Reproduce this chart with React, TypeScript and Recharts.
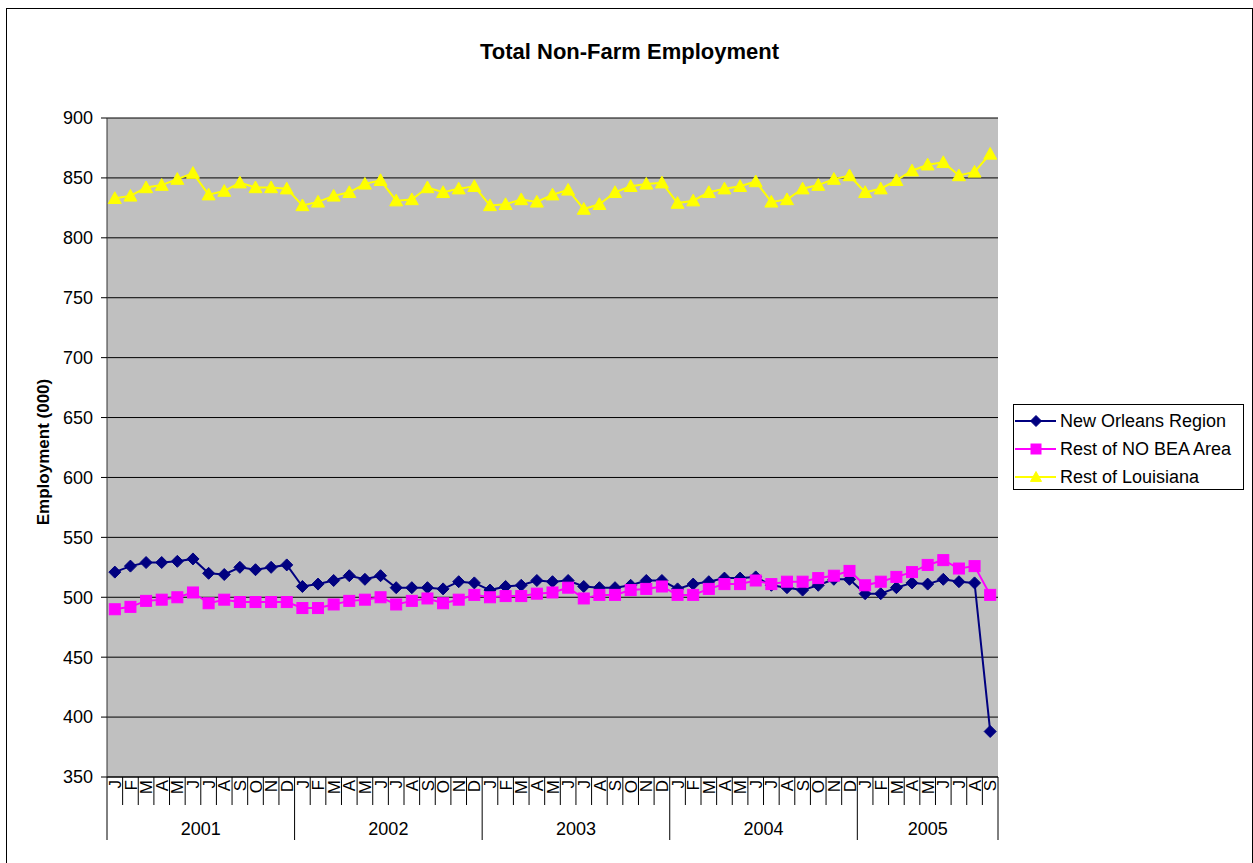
import React from 'react';
import { LineChart, Line, XAxis, YAxis, CartesianGrid } from 'recharts';

// Monthly values, Jan 2001 - Sep 2005 (thousands)
const years = ['2001', '2002', '2003', '2004', '2005'];
const monthLetters = ['J', 'F', 'M', 'A', 'M', 'J', 'J', 'A', 'S', 'O', 'N', 'D'];
const monthsPerYear = [12, 12, 12, 12, 9];

const newOrleansRegion = [
  521, 526, 529, 529, 530, 532, 520, 519, 525, 523, 525, 527,
  509, 511, 514, 518, 515, 518, 508, 508, 508, 507, 513, 512,
  506, 509, 510, 514, 513, 514, 509, 508, 508, 510, 514, 514,
  507, 511, 513, 516, 516, 517, 510, 508, 506, 510, 515, 515,
  503, 503, 508, 512, 511, 515, 513, 512, 388,
];

const restOfNoBea = [
  490, 492, 497, 498, 500, 504, 495, 498, 496, 496, 496, 496,
  491, 491, 494, 497, 498, 500, 494, 497, 499, 495, 498, 502,
  500, 501, 501, 503, 504, 508, 499, 502, 502, 506, 507, 509,
  502, 502, 507, 511, 511, 514, 511, 513, 513, 516, 518, 522,
  510, 513, 517, 521, 527, 531, 524, 526, 502,
];

const restOfLouisiana = [
  833, 835, 842, 844, 849, 854, 836, 839, 846, 842, 842, 841,
  827, 830, 835, 838, 845, 848, 831, 832, 842, 838, 841, 843,
  827, 828, 832, 830, 836, 840, 824, 828, 838, 843, 845, 846,
  829, 831, 838, 841, 843, 847, 830, 832, 841, 844, 849, 852,
  838, 841, 848, 856, 861, 863, 852, 855, 870,
];

const yTicks = [350, 400, 450, 500, 550, 600, 650, 700, 750, 800, 850, 900];

const FONT = 'Arial, "Liberation Sans", sans-serif';

// build rows
const rows: any[] = [];
years.forEach((yr, yi) => {
  for (let m = 0; m < monthsPerYear[yi]; m++) {
    const i = rows.length;
    rows.push({
      key: `${yr}-${m}`,
      month: monthLetters[m],
      year: yr,
      monthIdx: m,
      no: newOrleansRegion[i],
      bea: restOfNoBea[i],
      la: restOfLouisiana[i],
    });
  }
});

// chart geometry
const W = 1253;
const H = 863;
const MARGIN = { top: 118, right: 255, bottom: 6, left: 40 };
const Y_AXIS_W = 67;
const X_AXIS_H = 80;
const PLOT_W = W - MARGIN.left - Y_AXIS_W - MARGIN.right;
const BAND = PLOT_W / rows.length;

// index of the tick that carries each year's label, plus an x offset
const yearLabelAt: Record<number, { text: string; dx: number }> = {};
{
  let start = 0;
  years.forEach((yr, yi) => {
    const mid = (monthsPerYear[yi] - 1) / 2;
    const idx = start + Math.floor(mid);
    yearLabelAt[idx] = { text: yr, dx: (mid - Math.floor(mid)) * BAND };
    start += monthsPerYear[yi];
  });
}

const MonthTick = (props: any) => {
  const { x, y, payload } = props;
  const i = props.index ?? payload.index;
  const row = rows[i];
  if (!row) return null;
  const half = BAND / 2;
  const isJan = row.monthIdx === 0;
  const isLast = i === rows.length - 1;
  const yl = yearLabelAt[i];
  return (
    <g>
      <line x1={x - half} x2={x - half} y1={y} y2={y + (isJan ? 63 : 28)} stroke="#000" strokeWidth={1} />
      {isLast && <line x1={x + half} x2={x + half} y1={y} y2={y + 63} stroke="#000" strokeWidth={1} />}
      <text
        x={x}
        y={y + 3}
        dy="0.36em"
        textAnchor="end"
        transform={`rotate(-90, ${x}, ${y + 3})`}
        fontSize={17}
        fontFamily={FONT}
        fill="#000"
      >
        {row.month}
      </text>
      {yl && (
        <text x={x + yl.dx} y={y + 58} textAnchor="middle" fontSize={18} fontFamily={FONT} fill="#000">
          {yl.text}
        </text>
      )}
    </g>
  );
};

const Diamond = ({ cx, cy, color, s = 6 }: any) => (
  <path d={`M${cx},${cy - s}L${cx + s},${cy}L${cx},${cy + s}L${cx - s},${cy}Z`} fill={color} stroke={color} />
);
const Square = ({ cx, cy, color, s = 5.5 }: any) => (
  <rect x={cx - s} y={cy - s} width={s * 2} height={s * 2} fill={color} stroke={color} />
);
const Triangle = ({ cx, cy, color, s = 6.5 }: any) => (
  <path d={`M${cx},${cy - s}L${cx + s},${cy + s * 0.8}L${cx - s},${cy + s * 0.8}Z`} fill={color} stroke={color} />
);

const series = [
  { key: 'no', name: 'New Orleans Region', color: '#000080', Marker: Diamond },
  { key: 'bea', name: 'Rest of NO BEA Area', color: '#FF00FF', Marker: Square },
  { key: 'la', name: 'Rest of Louisiana', color: '#FFFF00', Marker: Triangle },
];

const App: React.FC = () => {
  return (
    <div style={{ position: 'fixed', left: 0, top: 0, width: W, height: H, overflow: 'hidden', background: '#fff' }}>
      {/* outer chart frame */}
      <div
        style={{
          position: 'absolute', left: 6, top: 8, width: 1247, height: 900,
          border: '1px solid #000', boxSizing: 'border-box',
        }}
      />

      <div
        style={{
          position: 'absolute', left: 6, width: 1247, top: 39, textAlign: 'center',
          fontFamily: FONT, fontWeight: 'bold', fontSize: 22,
        }}
      >
        Total Non-Farm Employment
      </div>

      <div
        style={{
          position: 'absolute', left: 44, top: 452, transform: 'translate(-50%, -50%) rotate(-90deg)',
          fontFamily: FONT, fontWeight: 'bold', fontSize: 17, whiteSpace: 'nowrap',
        }}
      >
        Employment (000)
      </div>

      <div style={{ position: 'absolute', left: 0, top: 0 }}>
        <LineChart width={W} height={H} data={rows} margin={MARGIN}>
          <CartesianGrid vertical={false} stroke="#000" fill="#C0C0C0" fillOpacity={1} />
          <XAxis
            dataKey="key"
            scale="band"
            interval={0}
            height={X_AXIS_H}
            tickSize={0}
            tickMargin={0}
            tickLine={false}
            axisLine={{ stroke: '#000' }}
            tick={<MonthTick />}
          />
          <YAxis
            domain={[350, 900]}
            ticks={yTicks}
            width={Y_AXIS_W}
            tickSize={6}
            tickMargin={8}
            axisLine={{ stroke: '#333' }}
            tickLine={{ stroke: '#000' }}
            tick={{ fill: '#000', fontSize: 18, fontFamily: FONT }}
            allowDataOverflow
          />
          <YAxis
            yAxisId="right"
            orientation="right"
            width={0}
            tick={false}
            tickLine={false}
            axisLine={{ stroke: '#808080' }}
          />
          {series.map((s) => (
            <Line
              key={s.key}
              dataKey={s.key}
              type="linear"
              stroke={s.color}
              strokeWidth={2}
              isAnimationActive={false}
              activeDot={false}
              dot={(p: any) => <s.Marker key={`${s.key}-${p.index}`} cx={p.cx} cy={p.cy} color={s.color} />}
            />
          ))}
        </LineChart>
      </div>

      {/* legend */}
      <div
        style={{
          position: 'absolute', left: 1013, top: 404, width: 231, height: 86,
          border: '1px solid #000', boxSizing: 'border-box', background: '#fff',
          fontFamily: FONT, fontSize: 18,
        }}
      >
        {series.map((s, i) => (
          <div key={s.key} style={{ position: 'absolute', left: 0, top: 5 + i * 28, height: 22, display: 'flex', alignItems: 'center' }}>
            <svg width={44} height={22} style={{ display: 'block' }}>
              <line x1={1} x2={42} y1={11} y2={11} stroke={s.color} strokeWidth={2} />
              <s.Marker cx={22} cy={11} color={s.color} s={s.key === 'bea' ? 5 : 5.5} />
            </svg>
            <span style={{ marginLeft: 2, whiteSpace: 'nowrap' }}>{s.name}</span>
          </div>
        ))}
      </div>
    </div>
  );
};

export default App;
